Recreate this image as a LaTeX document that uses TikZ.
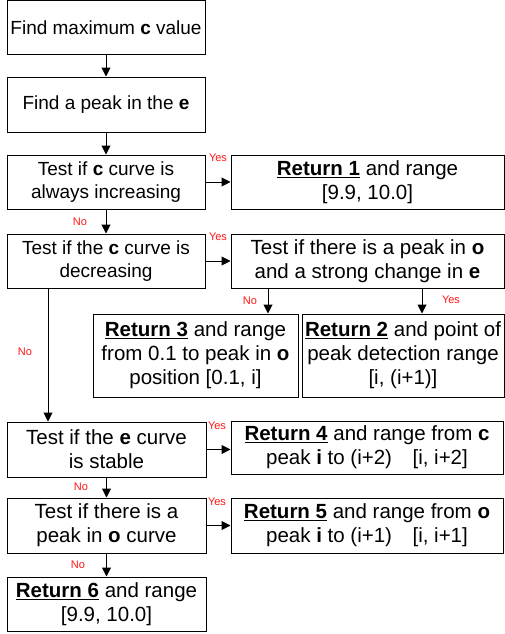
\documentclass[tikz,border=0pt]{standalone}
\usepackage{fontspec}
\setmainfont{Liberation Sans}
\usetikzlibrary{arrows.meta}
\definecolor{answerred}{RGB}{255,20,20}

\begin{document}
\begin{tikzpicture}[
    x=1pt, y=-1pt,
    box/.style={rectangle, draw, line width=1pt, align=center, inner sep=1pt,
        font=\fontsize{20.5}{24}\selectfont},
    topbox/.style={box, font=\fontsize{19}{23}\selectfont},
    arr/.style={line width=1pt, -{Triangle[length=9pt,width=9pt]}},
    lbl/.style={text=answerred, inner sep=0pt, font=\fontsize{11}{12}\selectfont}
]
\useasboundingbox (0,0) rectangle (505,634);
\node[topbox, minimum width=198pt, minimum height=54pt] (findmax) at (106,28) {Find maximum \textbf{c} value};
\node[topbox, minimum width=198pt, minimum height=55pt] (findpeak) at (106,104.5) {Find a peak in the \textbf{e}};
\node[topbox, minimum width=198pt, minimum height=54pt] (incr) at (106,182) {Test if \textbf{c} curve is\\ always increasing};
\node[topbox, minimum width=198pt, minimum height=54pt] (decr) at (106,261) {Test if the \textbf{c} curve is\\ decreasing};
\node[box, minimum width=273pt, minimum height=54pt] (ret1) at (367.5,182) {\underline{\textbf{Return 1}} and range\\ {[9.9, 10.0]}};
\node[box, minimum width=273pt, minimum height=54pt] (tpeak) at (367.5,261) {Test if there is a peak in \textbf{o}\\ and a strong change in \textbf{e}};
\node[box, minimum width=205pt, minimum height=83pt] (ret3) at (195.5,355.5) {\underline{\textbf{Return 3}} and range\\ from 0.1 to peak in \textbf{o}\\ position [0.1, i]};
\node[box, minimum width=202pt, minimum height=83pt] (ret2) at (403,355.5) {\underline{\textbf{Return 2}} and point of\\ peak detection range\\ {[i, (i+1)]}};
\node[box, minimum width=199pt, minimum height=55pt] (stable) at (106.5,449.5) {Test if the \textbf{e} curve\\ is stable};
\node[box, minimum width=272pt, minimum height=53pt] (ret4) at (367,447.5) {\underline{\textbf{Return 4}} and range from \textbf{c}\\ peak \textbf{i} to (i+2)\quad [i, i+2]};
\node[box, minimum width=199pt, minimum height=55pt] (opeak) at (106.5,525.5) {Test if there is a\\ peak in \textbf{o} curve};
\node[box, minimum width=272pt, minimum height=55pt] (ret5) at (367,525.5) {\underline{\textbf{Return 5}} and range from \textbf{o}\\ peak \textbf{i} to (i+1)\quad [i, i+1]};
\node[box, minimum width=199pt, minimum height=54pt] (ret6) at (106.5,604) {\underline{\textbf{Return 6}} and range\\ {[9.9, 10.0]}};

\coordinate (decrno) at ([xshift=-58pt]decr.south);
\coordinate (tpeakno) at ([xshift=-99.5pt]tpeak.south);
\coordinate (tpeakyes) at ([xshift=54.5pt]tpeak.south);

\draw[arr] (findmax) -- (findpeak);
\draw[arr] (findpeak) -- (incr);
\draw[arr] (incr) -- (decr);
\draw[arr] (incr) -- (ret1);
\draw[arr] (decr) -- (tpeak);
\draw[arr] (tpeakno) -- (tpeakno |- ret3.north);
\draw[arr] (tpeakyes) -- (tpeakyes |- ret2.north);
\draw[arr] (decrno) -- (decrno |- stable.north);
\draw[arr] (stable.east) -- (stable.east -| ret4.west);
\draw[arr] (stable.south) -- (stable.south |- opeak.north);
\draw[arr] (opeak.east) -- (opeak.east -| ret5.west);
\draw[arr] (opeak.south) -- (opeak.south |- ret6.north);

\node[lbl] (yes1) at (218,158) {Yes};
\node[lbl] (no1) at (80,222) {No};
\node[lbl] (yes2) at (218,237) {Yes};
\node[lbl] (no2) at (250,301) {No};
\node[lbl] (yes3) at (451,300) {Yes};
\node[lbl] (no3) at (25,352) {No};
\node[lbl] (yes4) at (217,426) {Yes};
\node[lbl] (no4) at (81,487) {No};
\node[lbl] (yes5) at (217,502) {Yes};
\node[lbl] (no5) at (78,565) {No};
\end{tikzpicture}
\end{document}
